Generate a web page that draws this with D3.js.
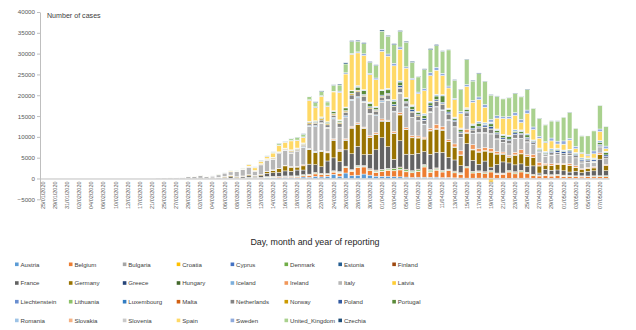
<!DOCTYPE html>
<html>
<head>
<meta charset="utf-8">
<script src="https://cdn.jsdelivr.net/npm/d3@7"></script>
<style>
  body { margin: 0; background: #fff; }
  text { font-family: "Liberation Sans", Arial, sans-serif; }
</style>
</head>
<body>
<svg id="grafico"></svg>
<script>
var dias = ['25/01/2020','27/01/2020','29/01/2020','30/01/2020','31/01/2020','01/02/2020','02/02/2020','03/02/2020','04/02/2020','05/02/2020',
  '06/02/2020','08/02/2020','10/02/2020','11/02/2020','12/02/2020','14/02/2020','17/02/2020','19/02/2020','21/02/2020','23/02/2020',
  '25/02/2020','26/02/2020','27/02/2020','28/02/2020','29/02/2020','01/03/2020','02/03/2020','03/03/2020','04/03/2020','05/03/2020',
  '06/03/2020','07/03/2020','08/03/2020','09/03/2020','10/03/2020','11/03/2020','12/03/2020','13/03/2020','14/03/2020','15/03/2020',
  '16/03/2020','17/03/2020','18/03/2020','19/03/2020','20/03/2020','21/03/2020','22/03/2020','23/03/2020','24/03/2020','25/03/2020',
  '26/03/2020','27/03/2020','28/03/2020','29/03/2020','30/03/2020','31/03/2020','01/04/2020','02/04/2020','03/04/2020','04/04/2020',
  '05/04/2020','06/04/2020','07/04/2020','08/04/2020','09/04/2020','10/04/2020','11/04/2020','12/04/2020','13/04/2020','14/04/2020',
  '15/04/2020','16/04/2020','17/04/2020','18/04/2020','19/04/2020','20/04/2020','21/04/2020','22/04/2020','23/04/2020','24/04/2020',
  '25/04/2020','26/04/2020','27/04/2020','28/04/2020','29/04/2020','30/04/2020','01/05/2020','02/05/2020','03/05/2020','04/05/2020',
  '05/05/2020','06/05/2020','07/05/2020','08/05/2020'];

var paises = ['Austria','Belgium','Bulgaria','Croatia','Cyprus','Denmark','Estonia','Finland',
  'France','Germany','Greece','Hungary','Iceland','Ireland','Italy','Latvia',
  'Liechtenstein','Lithuania','Luxembourg','Malta','Netherlands','Norway','Poland','Portugal',
  'Romania','Slovakia','Slovenia','Spain','Sweden','United_Kingdom','Czechia'];

var cores = ['#5B9BD5','#ED7D31','#A5A5A5','#FFC000','#4472C4','#70AD47','#255E91','#9E480E',
  '#636363','#997300','#264478','#43682B','#7CAFDD','#F1975A','#B7B7B7','#FFCD33',
  '#698ED0','#8CC168','#327DC2','#D26012','#848484','#CC9A00','#335AA1','#5A8A39',
  '#9DC3E6','#F4B183','#C9C9C9','#FFD966','#8FAADC','#A9D18E','#1F4E79'];

var ticksY = [-5000,0,5000,10000,15000,20000,25000,30000,35000,40000];

// casos por dia, um array por pais (94 dias)
var austria = [0,0,0,0,0,0,0,0,0,0, 0,0,0,0,0,0,0,0,0,0,
  0,2,1,0,6,1,4,4,4,17, 11,19,32,40,29,76,56,143,188,204,
  282,249,205,371,324,536,376,548,1014,564, 1319,675,796,1071,805,564,522,564,418,396,
  336,243,315,314,302,329,208,241,154,118, 94,84,96,96,85,77,73,65,82,73,
  98,65,53,58,65,58,47,42,46,44, 58,45,49,61];
var belgium = [0,0,0,0,0,0,0,0,0,0, 1,0,0,0,0,0,0,0,0,0,
  0,0,0,0,0,0,1,0,6,27, 59,60,31,39,28,47,85,160,130,197,
  172,185,243,309,462,558,586,342,526,668, 1298,1049,1850,1702,1063,876,1189,1384,1422,1661,
  1260,1123,1380,2454,1209,1684,1351,1629,1200,900, 2454,1236,1329,1045,1487,933,973,1487,1032,1496,
  1032,647,553,701,525,660,485,428,376,323, 361,345,355,361];
var bulgaria = [0,0,0,0,0,0,0,0,0,0, 0,0,0,0,0,0,0,0,0,0,
  0,0,0,0,0,0,0,0,0,0, 0,0,0,4,0,2,1,16,8,10,
  10,16,29,24,13,36,25,38,9,21, 22,20,30,23,27,28,40,13,22,30,
  46,20,16,28,25,25,28,44,32,23, 37,22,41,22,17,36,21,29,37,38,
  32,19,29,33,37,30,37,24,34,29, 32,28,41,44];
var croatia = [0,0,0,0,0,0,0,0,0,0, 0,0,0,0,0,0,0,0,0,0,
  1,2,0,0,2,1,2,0,1,1, 1,0,1,0,2,3,13,6,6,10,
  5,10,24,44,53,76,28,52,89,78, 56,89,47,56,68,77,43,96,76,79,
  81,64,72,60,51,84,45,34,33,18, 45,38,28,25,50,22,27,29,24,13,
  14,14,11,18,4,11,9,11,9,6, 12,9,10,7];
var cyprus = [0,0,0,0,0,0,0,0,0,0, 0,0,0,0,0,0,0,0,0,0,
  0,0,0,0,0,0,0,0,0,0, 0,0,0,0,2,0,4,0,8,12,
  7,13,13,8,8,17,11,28,21,16, 8,14,10,17,10,19,15,13,0,32,
  24,29,19,12,35,26,36,38,21,6, 9,21,20,17,12,11,11,9,5,6,
  5,12,9,9,5,3,7,3,3,5, 4,1,3,3];
var denmark = [0,0,0,0,0,0,0,0,0,0, 0,0,0,0,0,0,0,0,0,0,
  0,0,0,0,0,0,0,2,5,10, 10,4,7,10,197,100,60,62,127,26,
  37,66,79,84,112,157,121,81,105,184, 155,147,236,97,155,224,282,233,390,371,
  321,292,312,331,390,233,184,177,178,210, 170,212,176,218,225,142,131,187,256,235,
  161,160,142,122,157,143,161,133,114,137, 93,137,133,150];
var estonia = [0,0,0,0,0,0,0,0,0,0, 0,0,0,0,0,0,0,0,0,0,
  0,0,0,0,0,0,0,0,0,1, 0,1,0,3,5,0,0,14,12,37,
  66,40,26,47,33,25,23,20,20,30, 33,54,70,63,38,36,40,30,60,52,
  42,31,30,25,34,45,30,50,33,10, 20,30,30,10,8,7,14,18,16,12,
  15,12,12,15,9,6,6,7,5,13, 7,5,5,9];
var finland = [0,0,0,0,1,0,0,0,0,0, 0,0,0,0,0,0,0,0,0,0,
  0,1,0,0,1,0,0,0,1,4, 4,5,3,10,5,20,40,50,60,24,
  35,47,12,48,40,63,81,99,74,92, 73,78,86,79,184,210,72,75,83,138,
  130,53,104,151,118,117,97,39,128,91, 65,81,109,189,63,84,68,92,171,104,
  141,102,49,40,112,108,59,110,57,79, 41,73,54,45];
var france = [3,0,1,1,0,0,0,0,0,0, 0,5,0,0,0,0,0,0,0,0,
  2,2,18,19,43,30,61,21,73,138, 190,336,177,286,372,300,400,785,838,924,
  1210,1097,1404,1100,2400,1847,1559,3000,3100,2400, 3922,3809,4611,2599,3450,4861,7578,5233,2116,6300,
  3600,3912,3777,3100,3650,3700,4300,2800,2673,1700, 5497,2641,1600,2569,785,2051,2667,1827,1653,1537,
  1470,2000,452,1231,1065,1030,1035,794,1108,768, 1104,1200,4000,1200];
var germany = [0,0,4,0,1,3,2,0,2,0, 0,1,0,2,0,0,0,0,0,0,
  0,2,4,5,26,16,30,30,40,70, 250,350,150,200,240,150,250,400,600,900,
  1200,1000,700,1000,3500,2900,3700,1950,4200,2500, 2250,6150,5200,6300,4000,3630,3960,6000,6200,6200,
  5900,4000,3700,3000,5600,5600,5300,3800,3000,2500, 2500,2500,2900,2400,3600,2500,1800,1300,2300,2400,
  2300,2000,1700,1000,1100,1300,1500,1600,900,700, 700,700,1100,1200];
var greece = [0,0,0,0,0,0,0,0,0,0, 0,0,0,0,0,0,0,0,0,0,
  0,0,1,2,4,0,0,0,1,2, 1,21,1,7,13,16,10,20,27,38,
  103,33,56,31,31,100,35,94,71,48, 78,71,95,74,95,60,102,32,50,62,
  39,25,29,20,60,48,30,20,35,15, 25,15,20,10,2,2,100,50,15,5,
  14,0,10,11,15,15,4,21,10,5, 9,3,10,4];
var hungary = [0,0,0,0,0,0,0,0,0,0, 0,0,0,0,0,0,0,0,0,0,
  0,0,0,0,0,0,0,0,0,2, 0,5,0,2,3,1,3,3,11,9,
  1,11,11,8,15,12,18,31,20,39, 35,34,40,42,39,45,47,43,60,62,
  55,111,77,72,80,85,100,39,86,58, 96,168,67,112,104,78,74,99,93,80,
  104,52,59,56,65,35,47,34,63,24, 33,45,25,35];
var iceland = [0,0,0,0,0,0,0,0,0,0, 0,0,0,0,0,0,0,0,0,0,
  0,0,0,0,1,0,1,5,10,9, 11,7,12,10,11,23,14,18,22,18,
  29,24,24,20,84,67,66,43,80,61, 60,73,48,42,31,60,26,99,30,45,
  24,27,25,24,12,12,12,14,9,11, 10,7,3,14,1,2,1,1,1,1,
  1,0,0,2,1,0,1,0,1,0, 0,1,1,0];
var ireland = [0,0,0,0,0,0,0,0,0,0, 0,0,0,0,0,0,0,0,0,0,
  0,0,0,0,0,0,0,0,0,1, 0,12,1,5,10,9,27,20,30,39,
  40,73,74,191,126,102,121,219,204,235, 255,302,294,200,295,325,392,212,402,424,
  390,370,365,345,500,1012,697,430,727,992, 832,1068,724,709,778,493,401,388,577,936,
  377,701,834,345,376,266,221,376,330,211, 190,245,359,236];
var italy = [0,0,0,0,2,0,0,0,0,0, 1,0,0,0,0,0,0,0,3,60,
  90,120,160,250,380,420,566,342,466,587, 769,778,1247,1492,1797,977,2313,2651,2547,3497,
  3590,3233,3526,4207,5322,5986,6557,5560,4789,5249, 5210,6153,5959,5974,5217,4050,4053,4782,4668,4585,
  4805,4316,3599,3039,3836,4204,3951,4694,4092,3153, 2972,2667,3786,3493,3491,3047,2256,2729,3370,2646,
  3021,2357,2324,1739,2091,2086,1872,1965,1900,1389, 1221,1075,1444,1401];
var latvia = [0,0,0,0,0,0,0,0,0,0, 0,0,0,0,0,0,0,0,0,0,
  0,0,0,0,0,0,0,0,1,0, 0,1,0,0,1,4,4,7,9,10,
  8,26,11,8,26,13,20,41,41,24, 24,25,23,31,22,29,29,17,19,18,
  7,10,33,7,19,8,18,11,11,9, 12,19,19,18,5,9,9,7,14,17,
  6,6,5,11,7,14,16,17,14,10, 9,11,12,3];
var liechtenstein = [0,0,0,0,0,0,0,0,0,0, 0,0,0,0,0,0,0,0,0,0,
  0,0,0,0,0,0,0,0,0,0, 1,0,0,0,0,0,0,3,0,0,
  2,0,0,3,6,8,11,5,0,4, 5,3,4,5,4,0,6,0,3,2,
  1,0,0,0,1,0,0,1,0,1, 0,0,0,0,0,0,0,0,1,0,
  0,0,0,0,0,0,0,0,0,0, 0,0,0,0];
var lithuania = [0,0,0,0,0,0,0,0,0,0, 0,0,0,0,0,0,0,0,0,0,
  0,0,0,0,0,0,0,0,0,0, 0,0,0,1,0,0,0,0,2,3,
  3,3,12,11,9,23,21,11,61,26, 35,48,56,62,33,53,47,38,40,81,
  41,29,63,36,42,30,34,32,28,23, 12,18,24,32,38,28,28,10,10,12,
  9,15,15,23,11,7,10,15,11,18, 21,20,15,9];
var luxembourg = [0,0,0,0,0,0,0,0,0,0, 0,0,0,0,0,0,0,0,0,0,
  0,0,0,0,0,0,0,0,0,0, 0,0,0,0,1,2,2,19,8,30,
  22,59,63,135,139,186,36,128,224,76, 224,233,190,151,119,125,234,143,118,128,
  115,50,29,64,101,70,57,57,30,64, 23,65,85,80,50,15,29,28,40,18,
  21,15,9,6,14,15,20,10,5,1, 10,5,14,7];
var malta = [0,0,0,0,0,0,0,0,0,0, 0,0,0,0,0,0,0,0,0,0,
  0,0,0,0,0,0,0,0,0,0, 0,0,1,2,0,3,3,3,6,3,
  6,3,9,10,11,20,9,17,7,29, 10,10,5,5,5,17,21,11,7,20,
  14,7,3,4,7,7,10,10,12,5, 14,4,5,10,2,5,6,5,2,0,
  3,0,2,1,1,3,2,4,0,1, 2,5,3,1];
var netherlands = [0,0,0,0,0,0,0,0,0,0, 0,0,0,0,0,0,0,0,0,0,
  0,0,0,1,1,5,8,6,5,14, 44,46,60,77,56,61,121,111,190,155,
  176,278,292,346,409,534,637,573,545,811, 852,1019,1172,1159,1104,884,845,1019,1083,1026,
  904,1224,952,777,969,1213,1335,1316,1174,964, 868,734,1061,1235,1066,1140,750,729,797,887,
  655,400,171,386,513,475,445,514,475,445, 335,199,232,455];
var norway = [0,0,0,0,0,0,0,0,0,0, 0,0,0,0,0,0,0,0,0,0,
  0,0,1,0,5,9,0,7,10,26, 31,14,43,54,170,90,89,165,147,82,
  109,223,206,223,281,157,281,244,278,199, 269,278,234,224,245,198,237,211,138,169,
  135,173,196,140,66,98,125,95,53,61, 83,77,83,66,51,59,34,57,86,63,
  61,40,47,29,48,46,54,47,32,26, 22,32,26,29];
var poland = [0,0,0,0,0,0,0,0,0,0, 0,0,0,0,0,0,0,0,0,0,
  0,0,0,0,0,0,0,0,0,0, 1,4,6,5,0,11,17,15,24,24,
  25,27,87,39,108,111,110,95,152,150, 129,170,168,249,224,193,256,243,392,437,
  244,475,311,435,357,370,380,401,318,260, 268,380,336,461,545,263,306,313,381,263,
  338,285,205,163,300,381,386,430,274,327, 254,307,286,404];
var portugal = [0,0,0,0,0,0,0,0,0,0, 0,0,0,0,0,0,0,0,0,0,
  0,0,0,0,0,0,0,0,2,2, 5,4,8,9,9,11,18,19,34,57,
  76,86,117,194,143,235,260,320,460,302, 633,549,724,902,792,446,1035,808,783,852,
  638,754,452,712,699,815,1516,598,349,598, 514,643,750,181,657,521,516,603,371,444,
  595,163,349,183,295,305,158,248,181,92, 242,178,533,553];
var romania = [0,0,0,0,0,0,0,0,0,0, 0,0,0,0,0,0,0,0,0,0,
  0,0,1,0,2,0,0,0,2,0, 1,0,6,5,3,10,6,20,19,11,
  44,24,63,30,17,47,59,66,143,186, 144,123,263,160,308,262,192,309,310,307,
  279,253,193,360,284,356,262,280,323,190, 243,337,374,349,394,311,286,312,391,329,
  273,190,266,334,346,285,250,193,319,324, 170,253,391,321];
var slovakia = [0,0,0,0,0,0,0,0,0,0, 0,0,0,0,0,0,0,0,0,0,
  0,0,0,0,0,0,0,0,0,0, 0,0,1,2,4,0,11,11,11,21,
  11,25,25,18,41,26,7,12,18,32, 19,10,66,21,20,22,27,36,37,44,
  37,63,49,100,70,52,33,56,53,140, 119,34,52,65,33,56,40,13,14,39,
  13,9,11,12,4,3,7,1,3,0, 3,2,6,4];
var slovenia = [0,0,0,0,0,0,0,0,0,0, 0,0,0,0,0,0,0,0,0,0,
  0,0,0,0,0,0,0,0,0,0, 2,4,9,6,9,16,10,46,45,66,
  34,34,17,36,38,30,42,31,28,63, 48,34,30,56,28,46,41,36,40,43,
  20,36,20,9,21,34,16,11,6,13, 19,15,12,13,16,15,3,17,9,12,
  5,7,4,2,12,5,3,4,3,3, 4,3,2,7];
var spain = [0,0,0,0,0,1,0,0,0,0, 0,0,0,0,1,0,0,0,0,0,
  0,4,3,2,15,13,39,36,45,57, 37,141,100,173,400,622,582,500,1000,1560,
  1407,2144,1806,1300,5000,3150,4946,3646,4517,6584, 7937,8578,7871,8189,6549,6398,9222,7719,8102,7472,
  7026,6023,4273,5478,6180,5756,4576,4830,4167,3477, 5092,5183,5252,3658,-900,2600,3800,3968,3400,1800,
  4870,2500,2360,2050,1850,1000,1400,2200,900,1000, 500,1000,2180,600];
var sweden = [0,0,0,0,0,1,0,0,0,0, 0,0,0,0,0,0,0,0,0,0,
  0,0,1,0,5,0,7,1,15,21, 36,97,42,62,49,145,100,147,155,68,
  88,89,101,139,163,200,141,130,167,333, 284,238,238,401,328,407,512,519,621,555,
  312,388,376,487,726,722,544,466,332,465, 497,482,613,676,606,563,392,545,682,751,
  812,610,463,286,695,681,790,428,562,235, 401,705,601,642];
var unitedKingdom = [0,0,0,0,0,0,2,0,0,0, 0,0,4,0,0,0,0,0,0,0,
  0,0,0,2,5,3,13,4,11,34, 30,48,43,67,48,52,83,134,117,342,
  152,407,676,643,714,1035,1000,967,1427,1452, 2129,2885,2546,2433,2619,3009,4324,4244,4450,3735,
  5903,3802,3634,4600,5500,5195,5288,8681,4342,5252, 6000,4617,5599,5525,5850,4676,4301,4451,4583,5386,
  4913,4463,4309,3996,4076,4800,5700,6200,4339,3985, 4406,4800,5614,4649];
var czechia = [0,0,0,0,0,0,0,0,0,0, 0,0,0,0,0,0,0,0,0,0,
  0,0,0,0,0,0,0,0,0,0, 6,7,7,12,9,23,53,11,57,52,
  43,90,49,121,71,168,153,166,119,228, 274,200,241,250,219,172,287,199,255,222,
  228,244,149,180,264,263,125,156,148,94, 102,198,161,85,135,83,54,130,100,112,
  114,30,59,35,75,77,24,75,28,64, 23,54,33,30];

var series = [austria, belgium, bulgaria, croatia, cyprus, denmark, estonia, finland,
  france, germany, greece, hungary, iceland, ireland, italy, latvia,
  liechtenstein, lithuania, luxembourg, malta, netherlands, norway, poland, portugal,
  romania, slovakia, slovenia, spain, sweden, unitedKingdom, czechia];

var largura = 636, altura = 330;
var svg = d3.select('#grafico').attr('width', largura).attr('height', altura);

// tabela por dia para o d3.stack
var tabela = dias.map(function(d, i) {
  var linha = { dia: i };
  paises.forEach(function(p, k) { linha[p] = series[k][i]; });
  return linha;
});

var pilhas = d3.stack().keys(paises).offset(d3.stackOffsetDiverging)(tabela);

var x = d3.scaleBand().domain(d3.range(dias.length)).range([40, 609]).paddingInner(0.24).paddingOuter(0.12);
var y = d3.scaleLinear().domain([-5000, 40000]).range([199.3, 12]);
var cor = d3.scaleOrdinal().domain(paises).range(cores);

// barras
svg.append('g').selectAll('g')
  .data(pilhas)
  .enter().append('g')
    .attr('fill', function(d) { return cor(d.key); })
  .selectAll('rect')
  .data(function(d) { return d; })
  .enter().append('rect')
    .attr('x', function(d) { return x(d.data.dia); })
    .attr('y', function(d) { return y(Math.max(d[0], d[1])); })
    .attr('width', x.bandwidth())
    .attr('height', function(d) { return Math.abs(y(d[0]) - y(d[1])); })
    .attr('stroke', '#fff')
    .attr('stroke-width', 0.45);

// eixo y
var eixoY = svg.append('g')
  .attr('transform', 'translate(40,0)')
  .call(d3.axisLeft(y).tickValues(ticksY).tickFormat(d3.format('d'))
    .tickSize(3).tickSizeOuter(0).tickPadding(2));
eixoY.select('.domain').attr('stroke', '#bfbfbf');
eixoY.selectAll('.tick line').attr('stroke', '#bfbfbf');
eixoY.selectAll('text').attr('font-size', 6.2).attr('fill', '#595959')
  .attr('font-family', '"Liberation Sans", Arial, sans-serif');

// eixo x
var eixoX = svg.append('g')
  .attr('transform', 'translate(0,' + y(0) + ')')
  .call(d3.axisBottom(x)
    .tickValues(d3.range(0, dias.length, 2))
    .tickFormat(function(i) { return dias[i]; })
    .tickSize(0).tickSizeOuter(0));
eixoX.select('.domain').attr('stroke', '#bfbfbf');
eixoX.selectAll('text')
  .attr('font-size', 5.5)
  .attr('fill', '#595959')
  .attr('font-family', '"Liberation Sans", Arial, sans-serif')
  .attr('text-anchor', 'end')
  .attr('transform', 'rotate(-90)')
  .attr('x', -3)
  .attr('y', 0)
  .attr('dy', '0.35em');

svg.append('text')
  .attr('x', 47).attr('y', 17.5)
  .attr('font-size', 7.1).attr('fill', '#404040')
  .text('Number of cases');

svg.append('text')
  .attr('x', 315).attr('y', 245)
  .attr('text-anchor', 'middle')
  .attr('font-size', 8.9).attr('fill', '#262626')
  .text('Day, month and year of reporting');

// legenda
var legenda = svg.append('g').selectAll('g')
  .data(paises)
  .enter().append('g')
    .attr('transform', function(d, i) {
      return 'translate(' + (15 + (i % 8) * 53.9) + ',' + (264.3 + Math.floor(i / 8) * 18.7) + ')';
    });
legenda.append('rect')
  .attr('x', 0).attr('y', -1.8)
  .attr('width', 3.6).attr('height', 3.6)
  .attr('fill', function(d) { return cor(d); });
legenda.append('text')
  .attr('x', 5.5).attr('y', 2.2)
  .attr('font-size', 6.1).attr('fill', '#404040')
  .text(function(d) { return d; });
</script>
</body>
</html>
